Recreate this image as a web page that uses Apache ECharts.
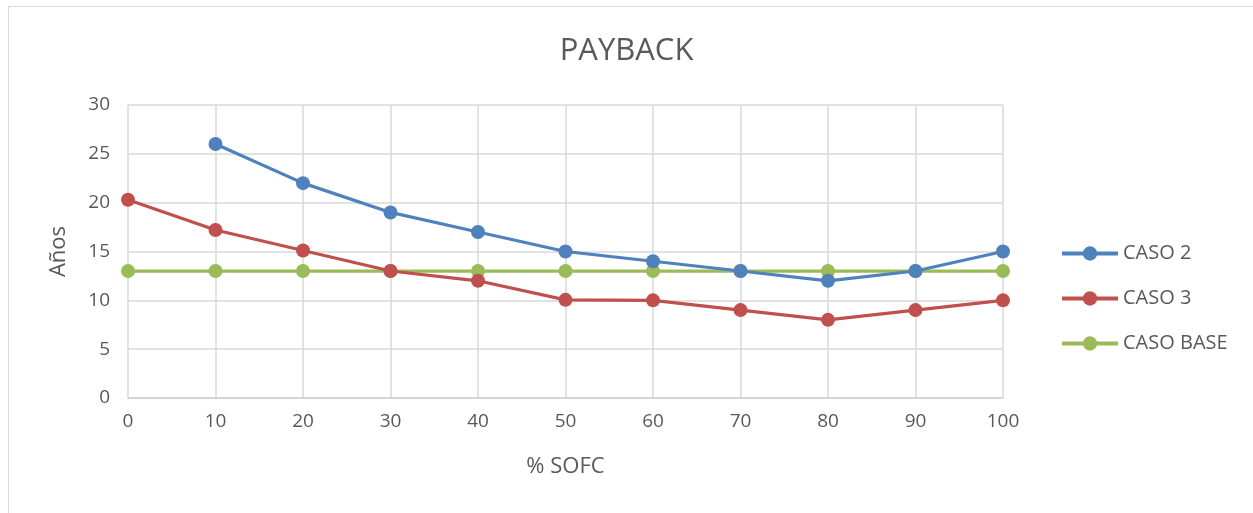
<!DOCTYPE html>
<html>
<head>
<meta charset="utf-8">
<script src="https://cdn.jsdelivr.net/npm/echarts@6/dist/echarts.min.js"></script>
<style>
  html, body { margin: 0; padding: 0; background: #fff; }
  #frame { position: absolute; left: 8px; top: 6px; width: 1260px; height: 520px; border: 1px solid #d9d9d9; box-sizing: border-box; }
  #chart { position: absolute; left: 0; top: 0; width: 1253px; height: 513px; }
</style>
</head>
<body>
<div id="frame"></div>
<div id="chart"></div>
<script>
// % SOFC share on the x axis
const sofc = [0, 10, 20, 30, 40, 50, 60, 70, 80, 90, 100];
// Payback in years per case (null where no value)
const caso2 = [null, 26, 22, 19, 17, 15, 14, 13, 12, 13, 15];
const caso3 = [20.3, 17.2, 15.1, 13, 12, 10.05, 10, 9, 8, 9, 10];
const casoBase = [13, 13, 13, 13, 13, 13, 13, 13, 13, 13, 13];

const seriesNames = ['CASO 2', 'CASO 3', 'CASO BASE'];
const seriesColors = ['#4f81bd', '#c0504d', '#9bbb59'];
const seriesData = [caso2, caso3, casoBase];

const font = 'Open Sans, Liberation Sans, sans-serif';
const textColor = '#595959';

const chart = echarts.init(document.getElementById('chart'), null, { renderer: 'canvas' });
chart.setOption({
  animation: false,
  backgroundColor: 'transparent',
  title: {
    text: 'PAYBACK',
    left: 'center',
    top: 31,
    textStyle: { fontFamily: font, fontSize: 31, fontWeight: 'normal', color: textColor }
  },
  legend: {
    orient: 'vertical',
    left: 1055,
    top: 235,
    itemWidth: 56,
    itemHeight: 18,
    itemGap: 18,
    textStyle: { fontFamily: font, fontSize: 20, color: textColor, lineHeight: 27 },
    data: seriesNames.map((name, i) => ({
      name,
      itemStyle: { color: seriesColors[i] },
      lineStyle: { color: seriesColors[i], width: 4 }
    }))
  },
  grid: { left: 128, right: 250, top: 105, bottom: 115 },
  xAxis: {
    type: 'value',
    min: 0, max: 100, interval: 10,
    name: '% SOFC',
    nameLocation: 'middle',
    nameGap: 58,
    nameTextStyle: { fontFamily: font, fontSize: 22, color: textColor },
    axisLine: { show: true, lineStyle: { color: '#d0d0d0', width: 1.5 } },
    axisTick: { show: false },
    axisLabel: { fontFamily: font, fontSize: 19, color: textColor, margin: 14 },
    splitLine: { show: true, lineStyle: { color: '#d9d9d9', width: 1.5 } }
  },
  yAxis: {
    type: 'value',
    min: 0, max: 30, interval: 5,
    name: 'Años',
    nameLocation: 'middle',
    nameGap: 58,
    nameTextStyle: { fontFamily: font, fontSize: 22, color: textColor },
    axisLine: { show: false },
    axisTick: { show: false },
    axisLabel: { fontFamily: font, fontSize: 19, color: textColor, margin: 18 },
    splitLine: { show: true, lineStyle: { color: '#d9d9d9', width: 1.5 } }
  },
  series: seriesNames.map((name, i) => ({
    name,
    type: 'line',
    data: sofc.map((x, j) => [x, seriesData[i][j]]),
    connectNulls: false,
    symbol: 'circle',
    symbolSize: 14,
    showSymbol: true,
    lineStyle: { color: seriesColors[i], width: 3.2 },
    itemStyle: { color: seriesColors[i] },
    z: 10 - i
  }))
});
</script>
</body>
</html>
